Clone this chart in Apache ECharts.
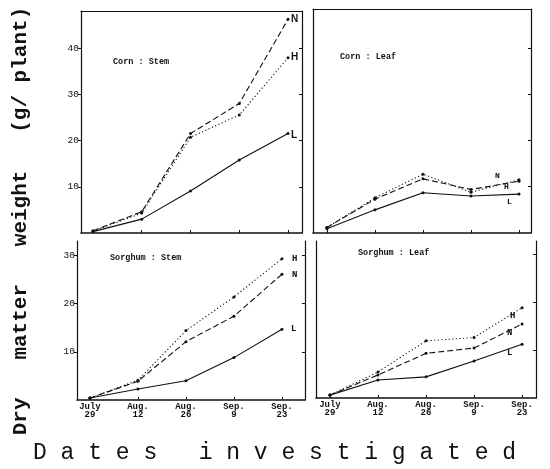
<!DOCTYPE html>
<html>
<head>
<meta charset="utf-8">
<script src="https://cdn.jsdelivr.net/npm/echarts@6/dist/echarts.min.js"></script>
<style>html,body{margin:0;padding:0;background:#fff;}#c{width:550px;height:469px;}</style>
</head>
<body>
<div id="c"></div>
<script>
const dates = ['July\n29', 'Aug.\n12', 'Aug.\n26', 'Sep.\n9', 'Sep.\n23'];
const topTicks = [10, 20, 30, 40];
const bottomTicks = [10, 20, 30];

const cornStemN = [0.5, 4.6, 21.5, 28.0, 46.2];
const cornStemH = [0.4, 4.3, 20.7, 25.5, 37.9];
const cornStemL = [0.3, 3.0, 9.1, 15.8, 21.5];

const cornLeafN = [1.2, 7.3, 11.7, 9.4, 11.2];
const cornLeafH = [1.2, 7.6, 12.7, 8.8, 11.5];
const cornLeafL = [0.9, 5.0, 8.7, 8.0, 8.4];

const sorghumStemH = [0.4, 4.1, 14.4, 21.4, 29.3];
const sorghumStemN = [0.4, 3.9, 12.1, 17.4, 26.1];
const sorghumStemL = [0.4, 2.3, 4.0, 8.8, 14.7];

const sorghumLeafH = [0.6, 5.4, 11.9, 12.6, 18.8];
const sorghumLeafN = [0.6, 4.8, 9.3, 10.4, 15.4];
const sorghumLeafL = [0.6, 3.75, 4.4, 7.7, 11.2];

const panelTitles = ['Corn : Stem', 'Corn : Leaf', 'Sorghum : Stem', 'Sorghum : Leaf'];
const seriesNames = ['N', 'H', 'L'];

const FONT = '"Liberation Mono", "DejaVu Sans Mono", monospace';
const INK = '#111';

const panels = [
  { grid: {left: 81, top: 11, width: 221, height: 222}, xmin: -0.246, xmax: 4.287, ymax: 48, ticks: topTicks, bottomRow: false, topLine: true,
    data: {N: cornStemN, H: cornStemH, L: cornStemL},
    lab: {N: [3, 0], H: [3, 0], L: [3, 2]}, labSize: 10, labFont: 'Liberation Sans', title: [113, 57] },
  { grid: {left: 313, top: 9, width: 218, height: 224}, xmin: -0.29, xmax: 4.25, ymax: 48.4, ticks: topTicks, bottomRow: false, topLine: true,
    data: {N: cornLeafN, H: cornLeafH, L: cornLeafL},
    lab: {N: [-24, -5], H: [-15, 7], L: [-12, 8]}, labSize: 8, labFont: FONT, title: [340, 52] },
  { grid: {left: 77, top: 241, width: 228, height: 159}, xmin: -0.27, xmax: 4.48, ymax: 33, ticks: bottomTicks, bottomRow: true, topLine: false,
    data: {N: sorghumStemN, H: sorghumStemH, L: sorghumStemL},
    lab: {N: [10, 0], H: [10, 0], L: [9, 0]}, labSize: 9, labFont: FONT, title: [110, 253] },
  { grid: {left: 316, top: 241, width: 220, height: 157}, xmin: -0.29, xmax: 4.29, ymax: 32.7, ticks: bottomTicks, bottomRow: true, topLine: false,
    data: {N: sorghumLeafN, H: sorghumLeafH, L: sorghumLeafL},
    lab: {N: [-15, 9], H: [-12, 8], L: [-15, 9]}, labSize: 9, labFont: FONT, title: [358, 248] }
];

const styles = {
  N: {type: [6, 3], width: 1.1},
  H: {type: [1.2, 2.4], width: 1.1},
  L: {type: 'solid', width: 1.1}
};

const grids = [], xAxes = [], yAxes = [], series = [], titles = [];
panels.forEach((p, i) => {
  grids.push(Object.assign({containLabel: false}, p.grid));
  xAxes.push({
    gridIndex: i, type: 'value', position: 'bottom', min: p.xmin, max: p.xmax,
    axisLine: {show: true, onZero: false, lineStyle: {color: INK, width: 1.6}},
    splitLine: {show: false},
    axisTick: {show: true, customValues: [0, 1, 2, 3, 4], inside: true, length: 3, lineStyle: {color: INK}},
    axisLabel: {show: p.bottomRow, customValues: [0, 1, 2, 3, 4], formatter: v => dates[Math.round(v)],
      fontFamily: FONT, fontWeight: 'bold', fontSize: 9, lineHeight: 8, color: INK, margin: 3}
  });
  xAxes.push({
    gridIndex: i, type: 'value', position: 'top', min: p.xmin, max: p.xmax,
    axisLine: {show: p.topLine, onZero: false, lineStyle: {color: INK, width: 1.2}},
    axisTick: {show: false}, axisLabel: {show: false}, splitLine: {show: false}
  });
  yAxes.push({
    gridIndex: i, type: 'value', position: 'left', min: 0, max: p.ymax,
    axisLine: {show: true, onZero: false, lineStyle: {color: INK, width: 1.2}},
    splitLine: {show: false},
    axisTick: {show: i % 2 === 0, customValues: p.ticks, length: 3, lineStyle: {color: INK}},
    axisLabel: {show: i % 2 === 0, customValues: p.ticks, fontFamily: FONT, fontSize: 9.5, color: INK, margin: 2}
  });
  yAxes.push({
    gridIndex: i, type: 'value', position: 'right', min: 0, max: p.ymax,
    axisLine: {show: true, onZero: false, lineStyle: {color: INK, width: 1.2}},
    splitLine: {show: false},
    axisTick: {show: true, customValues: p.ticks, inside: true, length: 3, lineStyle: {color: INK}},
    axisLabel: {show: false}
  });
  seriesNames.forEach(n => {
    series.push({
      type: 'line', name: n, xAxisIndex: 2 * i, yAxisIndex: 2 * i,
      data: p.data[n].map((v, k) => [k, v]),
      symbol: 'circle', symbolSize: 3, showSymbol: true,
      itemStyle: {color: INK},
      lineStyle: Object.assign({color: INK}, styles[n]),
      endLabel: {show: true, formatter: n, distance: 0, offset: p.lab[n], fontSize: p.labSize,
        fontFamily: p.labFont, fontWeight: 'bold', color: INK},
      animation: false, silent: true
    });
  });
  titles.push({text: panelTitles[i], left: p.title[0], top: p.title[1], padding: 0,
    textStyle: {fontFamily: FONT, fontWeight: 'bold', fontSize: 8.5, color: INK}});
});

const chart = echarts.init(document.getElementById('c'), null, {renderer: 'canvas'});
chart.setOption({
  backgroundColor: '#fff',
  animation: false,
  title: titles,
  grid: grids,
  xAxis: xAxes,
  yAxis: yAxes,
  series: series,
  graphic: [
    {type: 'text', x: 21, y: 221, rotation: Math.PI / 2,
      style: {text: 'Dry   matter   weight   (g/ plant)', fontFamily: FONT, fontWeight: 'bold', fontSize: 21,
        fill: INK, textAlign: 'center', textVerticalAlign: 'middle'}},
    {type: 'text', x: 33, y: 453,
      style: {text: 'D a t e s   i n v e s t i g a t e d', fontFamily: FONT, fontSize: 23,
        fill: INK, textAlign: 'left', textVerticalAlign: 'middle'}}
  ]
});
</script>
</body>
</html>
